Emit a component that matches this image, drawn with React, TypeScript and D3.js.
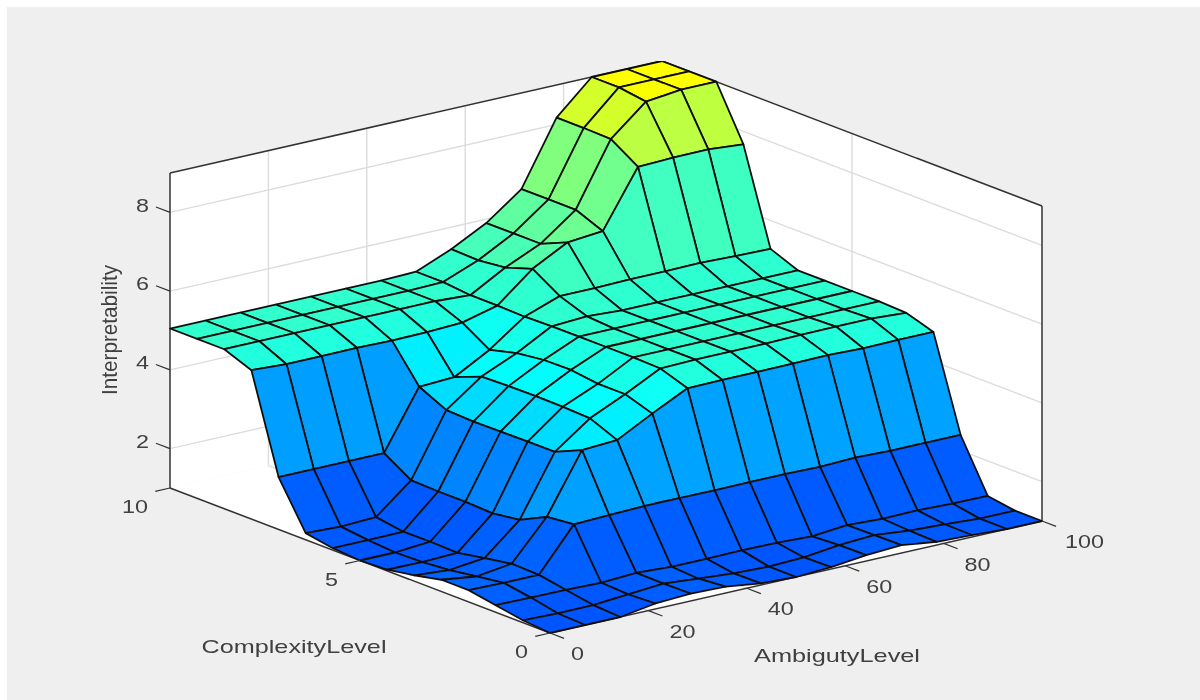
import React from 'react';
import * as d3 from 'd3';

// surface, one row per complexity step (front to back),
// each row runs along ambiguity 0..100
const row0 = [1, 1, 1, 1.14, 1.19, 1.16, 1.04, 1, 1.05, 1.15, 1.2, 1.08, 1.05, 1, 1];
const row1 = [1.06, 1.03, 1.04, 1.11, 1.18, 1.1, 1.03, 1, 1.03, 1.14, 1.19, 1.1, 1.06, 1, 1];
const row2 = [1.18, 1.17, 1.16, 1.14, 1.19, 1.14, 1.14, 1.15, 1.14, 1.1, 1.18, 1.14, 1.15, 1.12, 1.11];
const row3 = [1.3, 1.28, 1.28, 2.36, 2.39, 2.42, 2.42, 2.41, 2.42, 2.42, 2.4, 2.43, 2.4, 2.4, 2.4];
const row4 = [1.3, 1.18, 1.3, 2.29, 3.78, 3.83, 4.3, 4.74, 4.75, 4.75, 4.76, 4.77, 4.74, 4.75, 4.75];
const row5 = [1.15, 1.08, 1.18, 1.95, 3.47, 4.12, 4.53, 4.98, 5, 5, 5, 5.02, 5.03, 5.03, 4.97];
const row6 = [1.03, 1.02, 1.05, 1.85, 3.47, 4.15, 4.53, 5, 5, 5, 5, 5, 5, 5, 5];
const row7 = [1, 1, 1.07, 1.88, 3.46, 4.16, 4.62, 5, 5, 5, 5, 5, 5, 5, 5];
const row8 = [1.05, 1.05, 1.06, 1.88, 3.45, 4.15, 4.61, 5, 5, 5, 5, 5, 5, 5, 5];
const row9 = [1.17, 1.13, 1.17, 1.9, 3.48, 4.13, 4.52, 5, 5.05, 5, 5, 5, 5, 5, 5];
const row10 = [2.33, 2.33, 2.33, 2.33, 3.81, 3.85, 4.34, 4.98, 5.3, 5.3, 5.32, 5.32, 5.33, 5.3, 5.28];
const row11 = [4.78, 4.73, 4.73, 4.74, 4.72, 4.73, 4.77, 5, 5.73, 6.2, 6.28, 7.71, 7.74, 7.75, 7.67];
const row12 = [5.05, 5.05, 5.05, 5.05, 5.05, 5.05, 5.05, 5, 5.5, 5.9, 6.56, 8.15, 8.9, 9, 9];
const row13 = [5.05, 5.05, 5.05, 5.05, 5.05, 5.05, 5.05, 5.07, 5.42, 5.9, 6.56, 8.17, 9, 9, 9];
const row14 = [5.05, 5.05, 5.05, 5.05, 5.05, 5.05, 5.05, 5.07, 5.44, 5.9, 6.56, 8.17, 9, 9, 9];
const surface = [row0, row1, row2, row3, row4, row5, row6, row7, row8, row9, row10, row11, row12, row13, row14];

const xTicks = [0, 20, 40, 60, 80, 100];
const yTicks = [0, 5, 10];
const zTicks = [2, 4, 6, 8];

const xLabel = 'AmbigutyLevel';
const yLabel = 'ComplexityLevel';
const zLabel = 'Interpretability';

const width = 1200;
const height = 700;
const stretch = 1.23; // the reference is squeezed vertically, text looks wide

// oblique projection, no perspective
const xToH = d3.scaleLinear().domain([0, 100]).range([0, 492]);
const xToV = d3.scaleLinear().domain([0, 100]).range([0, -112]);
const yToH = d3.scaleLinear().domain([0, 10]).range([0, -380]);
const yToV = d3.scaleLinear().domain([0, 10]).range([0, -145]);
const zToV = d3.scaleLinear().domain([1, 9]).range([0, -315]);

function project(x: number, y: number, z: number): [number, number] {
    return [550 + xToH(x) + yToH(y), 633 + xToV(x) + yToV(y) + zToV(z)];
}

const colour = d3.scaleLinear<string>()
    .domain([1, 4.1, 9])
    .range(['#0055ff', '#00ffff', '#ffff00'])
    .interpolate(d3.interpolateRgb);

const path = d3.line<[number, number]>().x(d => d[0]).y(d => d[1]);
const closed = (pts: [number, number][]) => path(pts) + 'Z';

const gridX = d3.scaleLinear().domain([0, surface[0].length - 1]).range([0, 100]);
const gridY = d3.scaleLinear().domain([0, surface.length - 1]).range([0, 10]);

function Label({ x, y, anchor, children }: any) {
    return (
        <text transform={`translate(${x},${y}) scale(${stretch},1)`} textAnchor={anchor} fontSize={19}
            fill="#404040" fontFamily="Liberation Sans" dominantBaseline="central">
            {children}
        </text>
    );
}

function Surface() {
    const faces: React.ReactElement[] = [];
    // back corner first, so nearer faces paint over it
    for (let j = surface.length - 2; j >= 0; j--) {
        for (let i = surface[0].length - 2; i >= 0; i--) {
            const pts: [number, number][] = [
                project(gridX(i), gridY(j), surface[j][i]),
                project(gridX(i + 1), gridY(j), surface[j][i + 1]),
                project(gridX(i + 1), gridY(j + 1), surface[j + 1][i + 1]),
                project(gridX(i), gridY(j + 1), surface[j + 1][i])
            ];
            faces.push(
                <path key={`${j}-${i}`} d={closed(pts)} fill={colour(surface[j][i])}
                    stroke="#111" strokeWidth={1.8} strokeLinejoin="round" />
            );
        }
    }
    return <g>{faces}</g>;
}

export default function App() {
    const gridLine = '#dcdcdc';
    const axisLine = '#333';
    const floor = [project(0, 0, 1), project(100, 0, 1), project(100, 10, 1), project(0, 10, 1)];
    const backWall = [project(0, 10, 1), project(100, 10, 1), project(100, 10, 9), project(0, 10, 9)];
    const sideWall = [project(100, 0, 1), project(100, 10, 1), project(100, 10, 9), project(100, 0, 9)];

    const segment = (a: [number, number], b: [number, number], colourName: string, w: number, key: string) => (
        <path key={key} d={path([a, b]) as string} stroke={colourName} strokeWidth={w} fill="none" />
    );

    return (
        <svg width={width} height={height} style={{ position: 'absolute', left: 0, top: 0, background: '#fff' }}>
            {/* the reference is a soft upscaled screenshot */}
            <filter id="soft" x="0" y="0" width="100%" height="100%">
                <feGaussianBlur stdDeviation={0.5} />
            </filter>
            <rect x={7} y={7} width={width - 7} height={height - 7} fill="#efefef" />
            <g filter="url(#soft)">
                <path d={closed(floor)} fill="#fff" />
                <path d={closed(backWall)} fill="#fff" />
                <path d={closed(sideWall)} fill="#fff" />

                {xTicks.slice(1, -1).map(t => (
                    <g key={t}>
                        {segment(project(t, 0, 1), project(t, 10, 1), gridLine, 1.4, 'f')}
                        {segment(project(t, 10, 1), project(t, 10, 9), gridLine, 1.4, 'w')}
                    </g>
                ))}
                {segment(project(0, 5, 1), project(100, 5, 1), gridLine, 1.4, 'fy')}
                {segment(project(100, 5, 1), project(100, 5, 9), gridLine, 1.4, 'wy')}
                {zTicks.map(t => (
                    <g key={t}>
                        {segment(project(0, 10, t), project(100, 10, t), gridLine, 1.4, 'a')}
                        {segment(project(100, 10, t), project(100, 0, t), gridLine, 1.4, 'b')}
                    </g>
                ))}

                {segment(project(0, 10, 9), project(100, 10, 9), axisLine, 1.5, 'top1')}
                {segment(project(100, 10, 9), project(100, 0, 9), axisLine, 1.5, 'top2')}
                {segment(project(0, 10, 1), project(0, 10, 9), axisLine, 1.5, 'zl')}
                {segment(project(100, 0, 1), project(100, 0, 9), axisLine, 1.5, 'zr')}
                {segment(project(0, 10, 1), project(0, 0, 1), axisLine, 1.5, 'yb')}
                {segment(project(0, 0, 1), project(100, 0, 1), axisLine, 1.5, 'xb')}

                <Surface />

                {xTicks.map(t => {
                    const p = project(t, 0, 1);
                    return (
                        <g key={t}>
                            {segment(p, project(t, -0.37, 1), axisLine, 1.2, 't')}
                            <Label x={p[0] + (t === 100 ? 23 : 21)} y={p[1] + 21} anchor="start">{t}</Label>
                        </g>
                    );
                })}
                {yTicks.map(t => {
                    const p = project(0, t, 1);
                    return (
                        <g key={t}>
                            {segment(p, project(-3, t, 1), axisLine, 1.2, 't')}
                            <Label x={p[0] - 22} y={p[1] + 19} anchor="end">{t}</Label>
                        </g>
                    );
                })}
                {zTicks.map(t => {
                    const p = project(0, 10, t);
                    return (
                        <g key={t}>
                            {segment(p, project(0, 10.37, t), axisLine, 1.2, 't')}
                            <Label x={p[0] - 21} y={p[1] - 7} anchor="end">{t}</Label>
                        </g>
                    );
                })}

                <text x={294} y={646} textAnchor="middle" dominantBaseline="central" fontSize={19} fill="#404040"
                    fontFamily="Liberation Sans" textLength={185} lengthAdjust="spacingAndGlyphs">{yLabel}</text>
                <text x={837} y={655} textAnchor="middle" dominantBaseline="central" fontSize={19} fill="#404040"
                    fontFamily="Liberation Sans" textLength={166} lengthAdjust="spacingAndGlyphs">{xLabel}</text>
                <text transform={`translate(109,330) scale(${stretch},1) rotate(-90)`} textAnchor="middle"
                    dominantBaseline="central" fontSize={18} fill="#404040" fontFamily="Liberation Sans"
                    textLength={130} lengthAdjust="spacingAndGlyphs">{zLabel}</text>
            </g>
        </svg>
    );
}
